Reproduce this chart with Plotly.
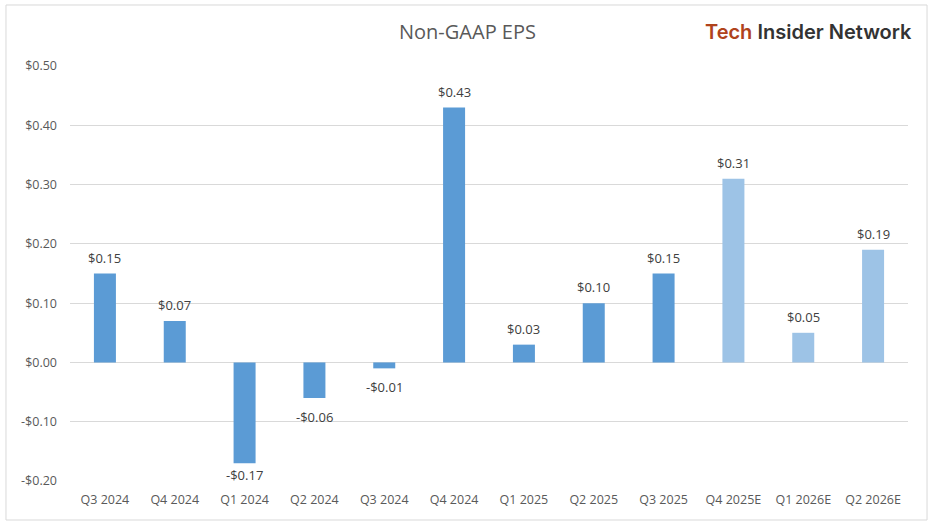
import plotly.graph_objects as go

quarters = ["Q3 2024", "Q4 2024", "Q1 2024", "Q2 2024", "Q3 2024", "Q4 2024",
            "Q1 2025", "Q2 2025", "Q3 2025", "Q4 2025E", "Q1 2026E", "Q2 2026E"]
eps = [0.15, 0.07, -0.17, -0.06, -0.01, 0.43, 0.03, 0.10, 0.15, 0.31, 0.05, 0.19]
is_estimate = [False] * 9 + [True] * 3
y_ticks = [-0.20, -0.10, 0.0, 0.10, 0.20, 0.30, 0.40, 0.50]
Y_MIN, Y_MAX = -0.20, 0.50

ACTUAL = "#5B9BD5"
ESTIMATE = "#9DC3E6"

def money(v):
    return ("-$%.2f" % abs(v)) if v < 0 else ("$%.2f" % v)

def label_shift(v):
    if v >= 0:
        return 5
    # keep labels of deep negative bars inside the plot area
    return -1 if v < Y_MIN + 0.04 else -8

xs = list(range(len(quarters)))
fig = go.Figure(go.Bar(
    x=xs, y=eps,
    marker_color=[ESTIMATE if e else ACTUAL for e in is_estimate],
    marker_line_width=0,
    cliponaxis=False,
    hoverinfo="skip",
))

label_annotations = [
    dict(x=i, y=v, xref="x", yref="y", text=money(v), showarrow=False,
         xanchor="center", yanchor="bottom" if v >= 0 else "top",
         yshift=label_shift(v),
         font=dict(family="Open Sans", size=13, color="#404040"))
    for i, v in zip(xs, eps)
]

fig.update_layout(
    width=936, height=525,
    margin=dict(l=70, r=28, t=66, b=44),
    paper_bgcolor="white", plot_bgcolor="white",
    bargap=0.685,
    showlegend=False,
    font=dict(family="Open Sans", color="#595959"),
    xaxis=dict(
        tickmode="array", tickvals=xs, ticktext=quarters,
        range=[-0.5, len(quarters) - 0.5],
        showgrid=False, zeroline=False, showline=False, ticks="",
        tickfont=dict(size=12.5, color="#595959"),
        ticklabelstandoff=9,
    ),
    yaxis=dict(
        range=[Y_MIN, Y_MAX], tickvals=y_ticks,
        ticktext=[money(v) for v in y_ticks],
        showgrid=True, gridcolor="#D9D9D9", gridwidth=1,
        zeroline=True, zerolinecolor="#D9D9D9", zerolinewidth=1,
        showline=False, ticks="",
        tickfont=dict(size=12.5, color="#595959"),
        ticklabelstandoff=12,
    ),
    shapes=[dict(type="rect", xref="paper", yref="paper",
                 x0=-0.0764, x1=1.0227, y0=-0.094, y1=1.147,
                 line=dict(color="#D9D9D9", width=1), layer="below")],
    annotations=label_annotations + [
        dict(text="Non-GAAP EPS", xref="paper", yref="paper",
             x=(467 - 70) / 838, y=(481 - 32) / 415, xanchor="center", yanchor="middle",
             showarrow=False, font=dict(family="Open Sans", size=20, color="#595959")),
        dict(text="<span style='color:#B0431C'>Tech</span> Insider Network",
             xref="paper", yref="paper",
             x=(914 - 70) / 838, y=(481 - 32) / 415, xanchor="right", yanchor="middle",
             showarrow=False, font=dict(family="Inter", size=20, weight=600, color="#333333")),
    ],
)

fig.write_html("out.html", config={"displayModeBar": False},
               post_script="document.body.style.margin='0';document.body.style.padding='0';")
